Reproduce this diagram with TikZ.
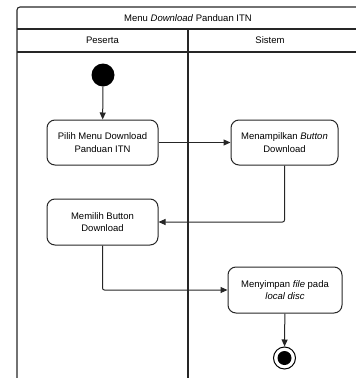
\documentclass[tikz,border=0pt]{standalone}
\usepackage{fontspec}
\setmainfont{Liberation Sans}
\usetikzlibrary{arrows.meta}
\begin{document}
\begin{tikzpicture}[x=1pt,y=-1pt,
  frame/.style={draw=black!85,line width=1.1pt},
  act/.style={draw=black!85,line width=1pt,rounded corners=8pt,align=center,
    minimum width=111pt,minimum height=45pt,inner sep=2pt,
    font=\fontsize{9.5}{12.3}\selectfont},
  lbl/.style={font=\fontsize{9.5}{12}\selectfont},
  flow/.style={draw=black!85,line width=1pt,-{Triangle[length=7pt,width=6pt]}},
  initial/.style={circle,fill=black,minimum size=23pt,inner sep=0pt},
  final/.style={circle,draw=black,line width=1pt,fill=white,minimum size=22pt,inner sep=0pt,
    path picture={\fill[black] (path picture bounding box.center) circle (7pt);}}]
\useasboundingbox (0,0) rectangle (356,378);
\clip (0,0) rectangle (356,378);
% swimlane frame
\draw[frame,rounded corners=3pt] (17,395) -- (17,7) -- (365,7);
\draw[frame] (17,29) -- (365,29);
\draw[frame] (17,52) -- (365,52);
\draw[frame] (188,29) -- (188,395);
\node[lbl] (title) at (188,18) {Menu \textit{Download} Panduan ITN};
\node[lbl] (lane1) at (102.5,40.5) {Peserta};
\node[lbl] (lane2) at (270,40.5) {Sistem};
% activities
\node[initial] (start) at (103,75) {};
\node[act] (pilih) at (102.5,142.5) {Pilih Menu Download\\Panduan ITN};
\node[act,minimum width=107pt] (tampil) at (284.5,142.5) {Menampilkan \textit{Button}\\Download};
\node[act,minimum height=46pt] (memilih) at (102.5,222) {Memilih Button\\Download};
\node[act,minimum width=114pt,minimum height=46pt] (simpan) at (285,290) {Menyimpan \textit{file} pada\\\textit{local disc}};
\node[final] (end) at (284.5,358) {};
% control flow
\draw[flow] (start) -- (pilih);
\draw[flow] (pilih) -- (tampil);
\draw[flow,rounded corners=2pt] (tampil.south) |- (memilih.east);
\draw[flow,rounded corners=2pt] (memilih.south) |- (simpan.west);
\draw[flow] (simpan) -- (end);
\end{tikzpicture}
\end{document}
